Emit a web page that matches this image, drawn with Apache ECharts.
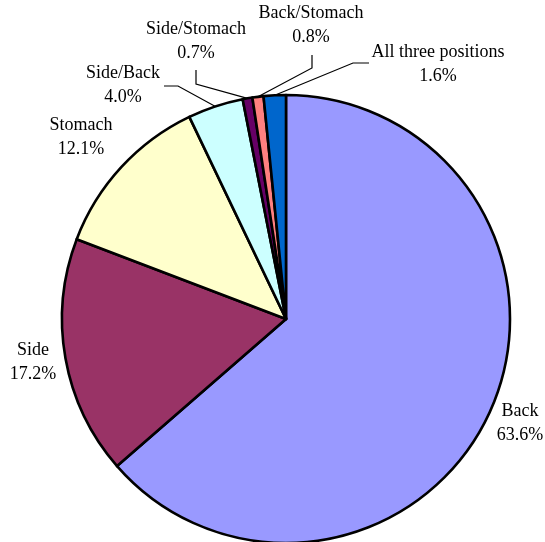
<!DOCTYPE html>
<html>
<head>
<meta charset="utf-8">
<script src="https://cdn.jsdelivr.net/npm/echarts@6/dist/echarts.min.js"></script>
<style>
  html, body { margin: 0; padding: 0; background: #fff; }
  #chart { width: 545px; height: 542px; }
</style>
</head>
<body>
<div id="chart"></div>
<script>
// Sleeping positions, share of respondents (%)
const categories = ['Back', 'Side', 'Stomach', 'Side/Back', 'Side/Stomach', 'Back/Stomach', 'All three positions'];
const shares = [63.6, 17.2, 12.1, 4.0, 0.7, 0.8, 1.6];
const colors = ['#9999FF', '#993366', '#FFFFCC', '#CCFFFF', '#660066', '#FF8080', '#0066CC'];

// Pie geometry
const CX = 286, CY = 319, R = 224;

// Label anchors (text centre) and leader-line elbows per slice
const labelPlacement = [
  { x: 520, y: 423 },
  { x: 33, y: 362 },
  { x: 81, y: 137 },
  { x: 123, y: 85, line: [[178, 86], [164, 86]] },
  { x: 196, y: 41, line: [[196, 84], [196, 70]] },
  { x: 311, y: 25, line: [[312, 68], [312, 55]] },
  { x: 438, y: 64, line: [[353, 63], [369, 63]] }
];

const total = shares.reduce((a, b) => a + b, 0);
// point on the rim at the middle of each slice (clockwise from 12 o'clock)
function rimPoint(i) {
  let before = 0;
  for (let k = 0; k < i; k++) before += shares[k];
  const mid = (before + shares[i] / 2) / total * Math.PI * 2;
  return [CX + R * Math.sin(mid), CY - R * Math.cos(mid)];
}

const chart = echarts.init(document.getElementById('chart'), null, { renderer: 'canvas' });
chart.setOption({
  backgroundColor: '#ffffff',
  animation: false,
  series: [{
    type: 'pie',
    center: [CX, CY],
    radius: R,
    startAngle: 90,
    clockwise: true,
    avoidLabelOverlap: false,
    itemStyle: { borderColor: '#000', borderWidth: 2.6 },
    label: {
      show: true,
      position: 'outside',
      fontFamily: '"Liberation Serif", "Times New Roman", serif',
      fontSize: 18,
      lineHeight: 24,
      color: '#000',
      align: 'center',
      formatter: p => p.name + '\n' + p.value.toFixed(1) + '%'
    },
    labelLine: { show: true, lineStyle: { color: '#000', width: 1.2 } },
    labelLayout: params => {
      const i = params.dataIndex;
      const pl = labelPlacement[i];
      const out = { x: pl.x, y: pl.y, align: 'center', verticalAlign: 'middle' };
      if (pl.line) out.labelLinePoints = [rimPoint(i)].concat(pl.line);
      return out;
    },
    data: categories.map((name, i) => ({
      name: name,
      value: shares[i],
      itemStyle: { color: colors[i] },
      labelLine: { show: !!labelPlacement[i].line }
    }))
  }]
});
</script>
</body>
</html>
